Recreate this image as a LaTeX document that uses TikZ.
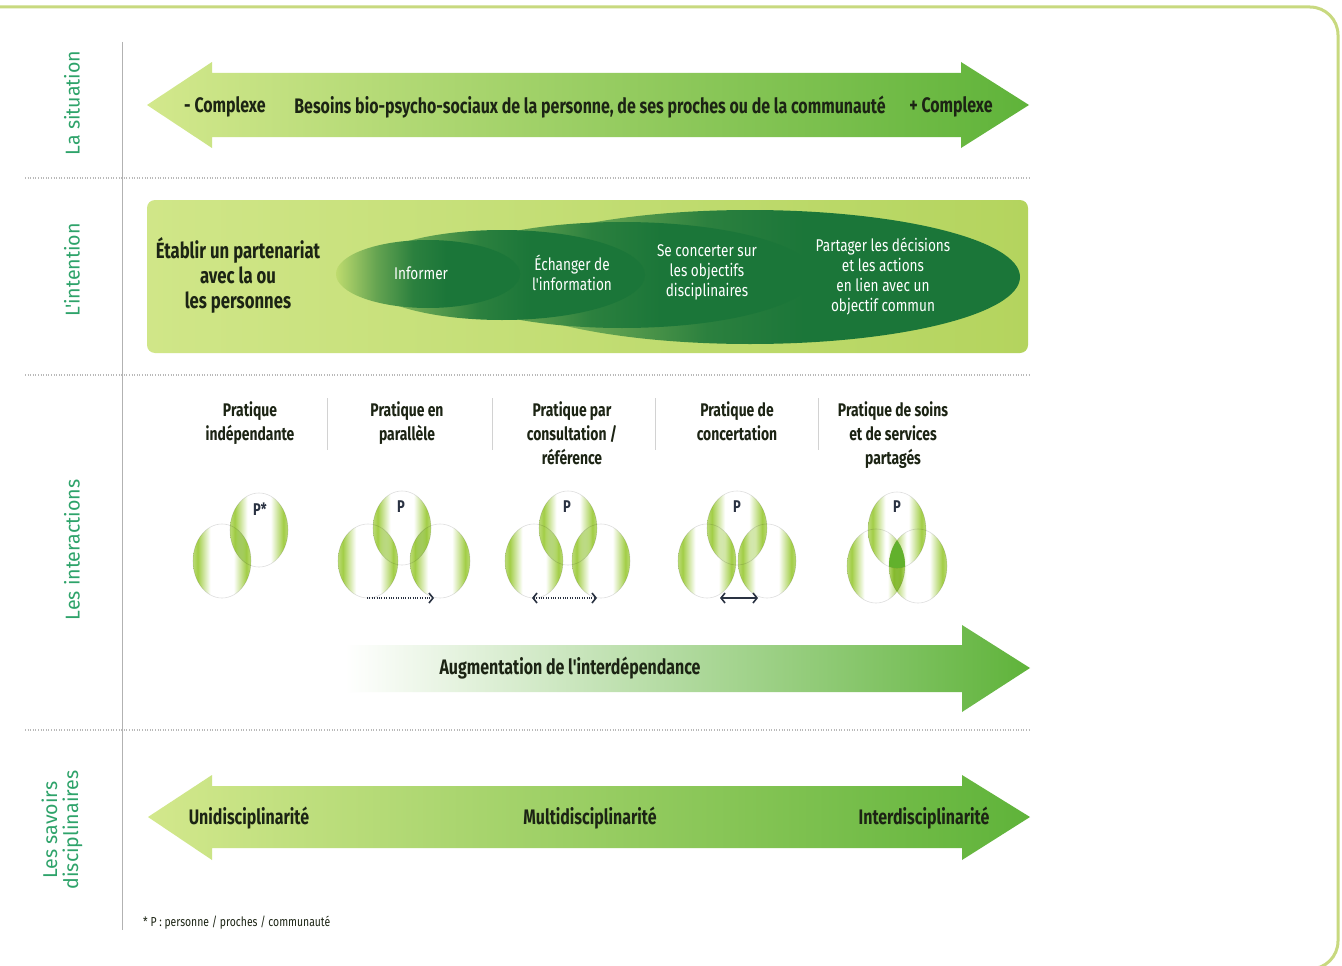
\documentclass[tikz,border=0pt]{standalone}
\usepackage{fontspec}
\setmainfont{Fira Sans}
\newfontfamily\fcb{Fira Sans}[FakeStretch=0.76]
\newfontfamily\fcr{Fira Sans}[FakeStretch=0.8]
\newfontfamily\fcl{Fira Sans}[FakeStretch=0.98]
\usetikzlibrary{arrows.meta}
\definecolor{lblc}{HTML}{2EA36A}
\definecolor{arrL}{HTML}{D3E88C}
\definecolor{arrR}{HTML}{5FB33A}
\definecolor{ibgL}{HTML}{D0E688}
\definecolor{ibgR}{HTML}{B4D45E}
\definecolor{ibg}{HTML}{BEDB6E}
\definecolor{dg}{HTML}{1B7639}
\definecolor{lime}{HTML}{9DCB3C}
\definecolor{bordc}{HTML}{C8D97F}
\definecolor{txt}{HTML}{1C2414}
\definecolor{pcol}{HTML}{2A3242}
\definecolor{trip}{HTML}{62B12C}
\pgfdeclarehorizontalshading{ellfade}{100bp}{color(0bp)=(ibg); color(25bp)=(ibg); color(36bp)=(dg!55!ibg); color(46bp)=(dg!90!ibg); color(55bp)=(dg); color(100bp)=(dg)}
\pgfdeclarehorizontalshading{cyl}{100bp}{color(0bp)=(lime); color(25bp)=(lime!70); color(29bp)=(lime!95); color(40bp)=(white); color(60bp)=(white); color(71bp)=(lime!95); color(75bp)=(lime!70); color(100bp)=(lime!70)}
\begin{document}
\begin{tikzpicture}[x=1pt,y=-1pt,
  lbl/.style={rotate=90, text=lblc, font=\fcl\fontsize{20}{21}\selectfont, align=center, inner sep=0pt},
  atxt/.style={text=txt, font=\fcb\bfseries\fontsize{21}{24}\selectfont, inner sep=0pt},
  hdr/.style={text=txt, font=\fcb\bfseries\fontsize{18.3}{24}\selectfont, align=center, anchor=north, inner sep=0pt},
  etxt/.style={text=white, font=\fcr\fontsize{17}{20}\selectfont, align=center, inner sep=0pt},
  btxt/.style={text=txt, font=\fcb\bfseries\fontsize{22}{25}\selectfont, align=center, inner sep=0pt},
  pl/.style={text=pcol, font=\fcb\bfseries\fontsize{17}{17}\selectfont, inner sep=0pt},
  sep/.style={gray!55, line width=1.2pt, dash pattern=on 0.8pt off 1.8pt},
  colsep/.style={gray!35, line width=0.8pt},
  cyl/.style={shading=cyl, draw=gray!25, line width=0.6pt},
  ia/.style={draw=pcol, line width=1.8pt},
  iadot/.style={ia, line width=2pt, dash pattern=on 1pt off 1.4pt},
  tipR/.style={-{Straight Barb[length=4pt,width=10pt,line width=1.6pt]}},
  tipLR/.style={{Straight Barb[length=4pt,width=10pt,line width=1.6pt]}-{Straight Barb[length=4pt,width=10pt,line width=1.6pt]}}
]
\useasboundingbox (0,0) rectangle (1342,966);
\fill[white] (0,0) rectangle (1342,966);

% frame
\draw[bordc, line width=3pt, rounded corners=28pt] (-10,7) -- (1338,7) -- (1338,969) -- (1200,969);

% vertical rule and separators
\draw[gray!60, line width=0.8pt] (122,42) -- (122,930);
\draw[sep] (25,178) -- (1030,178);
\draw[sep] (25,375) -- (1030,375);
\draw[sep] (25,730) -- (1030,730);

% left labels
\node[lbl] (l1) at (72,103) {La situation};
\node[lbl] (l2) at (72,270) {L'intention};
\node[lbl] (l3) at (72,550) {Les interactions};
\node[lbl] (l4) at (62,830) {Les savoirs\\disciplinaires};

% situation arrow
\shade[left color=arrL, right color=arrR] (147,105) -- (212,62) -- (212,73) -- (961,73) -- (961,62) -- (1029,105) -- (961,148) -- (961,137) -- (212,137) -- (212,148) -- cycle;
\node[atxt] (s1) at (225,107) {- Complexe};
\node[atxt] (s2) at (590,107) {Besoins bio-psycho-sociaux de la personne, de ses proches ou de la communauté};
\node[atxt] (s3) at (951,107) {+ Complexe};

% intention box
\shade[rounded corners=8pt, left color=ibgL, right color=ibgR] (147,200) rectangle (1028,353);
\node[btxt] (i0) at (238,275) {Établir un partenariat\\avec la ou\\les personnes};
\shade[shading=ellfade] (750,277) ellipse [x radius=270pt, y radius=67pt];
\shade[shading=ellfade] (622,275) ellipse [x radius=192pt, y radius=53pt];
\shade[shading=ellfade] (502,275) ellipse [x radius=143pt, y radius=45pt];
\shade[shading=ellfade] (428,274) ellipse [x radius=92pt, y radius=34pt];
\node[etxt] (i1) at (421,273) {Informer};
\node[etxt] (i2) at (572,273) {Échanger de\\l'information};
\node[etxt] (i3) at (707,272) {Se concerter sur\\les objectifs\\disciplinaires};
\node[etxt] (i4) at (883,276) {Partager les décisions\\et les actions\\en lien avec un\\objectif commun};

% interaction headers
\node[hdr] (h1) at (250,401) {Pratique\\indépendante};
\node[hdr] (h2) at (407,401) {Pratique en\\parallèle};
\node[hdr] (h3) at (572,401) {Pratique par\\consultation /\\référence};
\node[hdr] (h4) at (737,401) {Pratique de\\concertation};
\node[hdr] (h5) at (893,401) {Pratique de soins\\et de services\\partagés};
\draw[colsep] (327,398) -- (327,450);
\draw[colsep] (492,398) -- (492,450);
\draw[colsep] (655,398) -- (655,450);
\draw[colsep] (818,398) -- (818,450);

% circles
\begin{scope}[blend mode=multiply]
  \shadedraw[cyl] (222,561) ellipse [x radius=29pt, y radius=37pt];
  \shadedraw[cyl] (259,530) ellipse [x radius=29pt, y radius=37pt];
  \shadedraw[cyl] (368,561) ellipse [x radius=30pt, y radius=37pt];
  \shadedraw[cyl] (440,561) ellipse [x radius=30pt, y radius=37pt];
  \shadedraw[cyl] (402,528) ellipse [x radius=29pt, y radius=37pt];
  \shadedraw[cyl] (534,561) ellipse [x radius=29pt, y radius=37pt];
  \shadedraw[cyl] (601,561) ellipse [x radius=29pt, y radius=37pt];
  \shadedraw[cyl] (568,528) ellipse [x radius=29pt, y radius=37pt];
  \shadedraw[cyl] (707,561) ellipse [x radius=29pt, y radius=37pt];
  \shadedraw[cyl] (767,561) ellipse [x radius=29pt, y radius=37pt];
  \shadedraw[cyl] (737,528) ellipse [x radius=30pt, y radius=37pt];
  \shadedraw[cyl] (876,566) ellipse [x radius=29pt, y radius=37pt];
  \shadedraw[cyl] (918,566) ellipse [x radius=29pt, y radius=37pt];
  \shadedraw[cyl] (897,530) ellipse [x radius=29pt, y radius=38pt];
\end{scope}
\begin{scope}
  \clip (897,530) ellipse [x radius=29pt, y radius=38pt];
  \clip (876,566) ellipse [x radius=29pt, y radius=37pt];
  \fill[trip] (918,566) ellipse [x radius=29pt, y radius=37pt];
\end{scope}
\node[pl] (p1) at (260,509) {P*};
\node[pl] (p2) at (401,507) {P};
\node[pl] (p3) at (567,507) {P};
\node[pl] (p4) at (737,507) {P};
\node[pl] (p5) at (897,507) {P};

\coordinate (g2a) at (367,598);
\coordinate (g2b) at (434,598);
\coordinate (g3a) at (532,598);
\coordinate (g3b) at (597,598);
\coordinate (g4a) at (720,598);
\coordinate (g4b) at (758,598);
\draw[iadot, tipR] (g2a) -- (g2b);
\draw[iadot, tipLR] (g3a) -- (g3b);
\draw[ia, tipLR] (g4a) -- (g4b);

% interdependence arrow
\shade[left color=white, right color=arrR] (345,645) -- (962,645) -- (962,625) -- (1030,668) -- (962,712) -- (962,692) -- (345,692) -- cycle;
\node[atxt] (aug) at (570,668) {Augmentation de l'interdépendance};

% disciplines arrow
\shade[left color=arrL, right color=arrR] (148,817) -- (212,775) -- (212,786) -- (962,786) -- (962,775) -- (1030,817) -- (962,860) -- (962,848) -- (212,848) -- (212,860) -- cycle;
\node[atxt] (d1) at (249,818) {Unidisciplinarité};
\node[atxt] (d2) at (590,818) {Multidisciplinarité};
\node[atxt] (d3) at (924,818) {Interdisciplinarité};

% footnote
\node[anchor=west, inner sep=0pt, text=txt, font=\fcr\fontsize{13}{14}\selectfont] (fn) at (143,923) {* P : personne / proches / communauté};
\end{tikzpicture}
\end{document}
